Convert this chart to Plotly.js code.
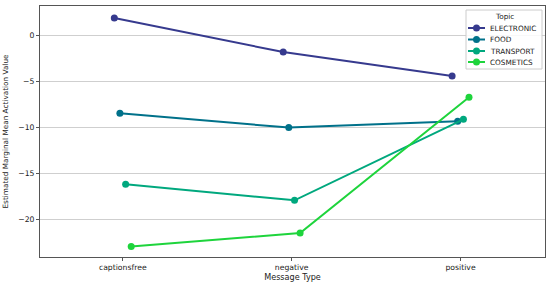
<!DOCTYPE html>
<html><head><meta charset="utf-8">
<script src="https://cdn.plot.ly/plotly-3.0.1.min.js"></script>
<style>html,body{margin:0;padding:0;background:#fff}#chart{width:550px;height:286px}</style>
</head><body><div id="chart"></div>
<script>
const categories = ["captionsfree", "negative", "positive"];
const topics = ["ELECTRONIC", "FOOD", "TRANSPORT", "COSMETICS"];
const electronic = [1.85, -1.85, -4.45];
const food = [-8.5, -10.05, -9.35];
const transport = [-16.2, -17.95, -9.15];
const cosmetics = [-22.95, -21.5, -6.75];
const colors = ["#363a8e", "#00718a", "#00a87e", "#1ed43c"];
const dodge = [-0.05, -0.017, 0.017, 0.05];
const series = [electronic, food, transport, cosmetics];

const traces = series.map((vals, i) => ({
  type: "scatter", mode: "lines+markers", name: topics[i],
  x: categories.map((c, j) => j + dodge[i]),
  y: vals,
  line: {color: colors[i], width: 2},
  marker: {color: colors[i], size: 7}
}));

// plot area in pixels
const M = {l: 40, r: 5, t: 6, b: 29};
const W = 550, H = 286;
const pw = W - M.l - M.r, ph = H - M.t - M.b;
const px = x => (x - M.l) / pw;
const py = y => 1 - (y - M.t) / ph;

// custom compact legend
const shapes = [{type: "rect", xref: "paper", yref: "paper",
  x0: px(466), x1: px(542), y0: py(69), y1: py(10),
  line: {color: "#cccccc", width: 1}, fillcolor: "rgba(255,255,255,0.85)", layer: "above"}];
const annotations = [{xref: "paper", yref: "paper", x: px(504), y: py(16.5), text: "Topic",
  showarrow: false, xanchor: "center", yanchor: "middle", font: {size: 7.3, color: "#222"}}];
const rowY = [28, 39.5, 51, 62];
topics.forEach((t, i) => {
  shapes.push({type: "line", xref: "paper", yref: "paper", x0: px(468), x1: px(485),
    y0: py(rowY[i]), y1: py(rowY[i]), line: {color: colors[i], width: 2}, layer: "above"});
  shapes.push({type: "circle", xref: "paper", yref: "paper", xsizemode: "pixel", ysizemode: "pixel",
    xanchor: px(476.5), yanchor: py(rowY[i]), x0: -3.5, x1: 3.5, y0: -3.5, y1: 3.5,
    fillcolor: colors[i], line: {color: colors[i], width: 0}, layer: "above"});
  annotations.push({xref: "paper", yref: "paper", x: px(488), y: py(rowY[i]), text: t,
    showarrow: false, xanchor: "left", yanchor: "middle", font: {size: 7.3, color: "#222"}});
});

const layout = {
  width: W, height: H,
  margin: M,
  paper_bgcolor: "#fff", plot_bgcolor: "#fff",
  font: {family: "DejaVu Sans", size: 7.7, color: "#222"},
  showlegend: false,
  xaxis: {
    range: [-0.49, 2.5], tickmode: "array", tickvals: [0, 1, 2], ticktext: categories,
    showgrid: false, zeroline: false, showline: true, mirror: true, linecolor: "#555", linewidth: 1,
    ticks: "outside", ticklen: 3, tickcolor: "#555",
    title: {text: "Message Type", font: {size: 8.1}, standoff: 3}
  },
  yaxis: {
    range: [-24.1, 3.15], tickvals: [0, -5, -10, -15, -20],
    showgrid: true, gridcolor: "#cfcfcf", gridwidth: 1, zeroline: false,
    showline: true, mirror: true, linecolor: "#555", linewidth: 1,
    ticks: "outside", ticklen: 3, tickcolor: "#555",
    title: {text: "Estimated Marginal Mean Activation Value", font: {size: 7.3}, standoff: 8}
  },
  shapes: shapes,
  annotations: annotations
};
Plotly.newPlot("chart", traces, layout, {displayModeBar: false, staticPlot: true});
</script></body></html>
